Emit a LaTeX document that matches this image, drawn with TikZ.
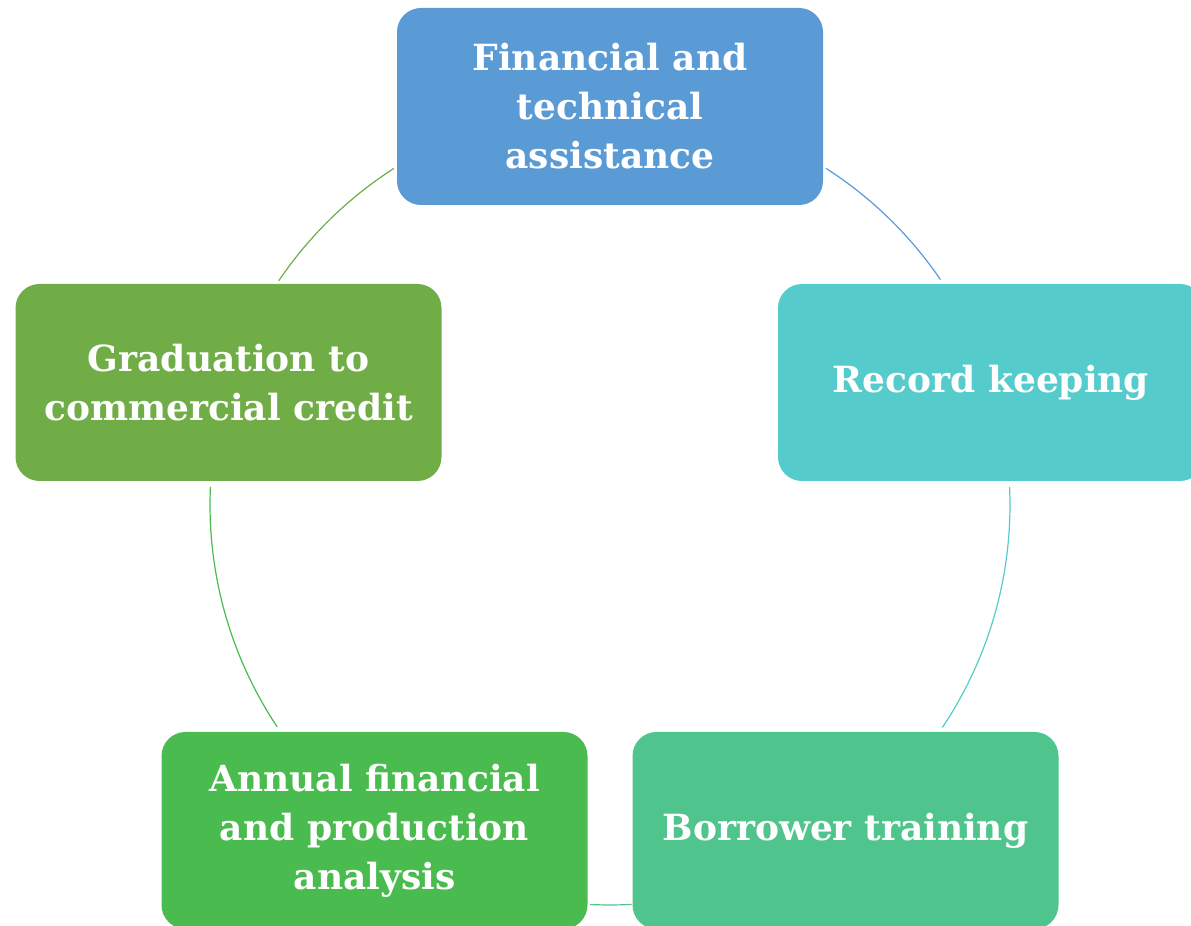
\documentclass[tikz,border=0pt]{standalone}
\usepackage{fontspec}
\setmainfont{DejaVu Serif}
\definecolor{cblue}{HTML}{5B9BD5}
\definecolor{cteal}{HTML}{56CBCC}
\definecolor{cmint}{HTML}{4FC58D}
\definecolor{cgreen}{HTML}{4ABB4E}
\definecolor{colive}{HTML}{70AD47}
\tikzset{
  stagebox/.style={rounded corners=12pt, minimum width=213pt, minimum height=98.5pt,
    align=center, text=white, font=\bfseries\fontsize{18pt}{24.5pt}\selectfont, inner sep=0pt},
  cycarc/.style={line width=0.6pt}
}
\begin{document}
\begin{tikzpicture}[x=0.5pt,y=0.5pt]
\useasboundingbox (0,0) rectangle (1191,926);
\clip (0,0) rectangle (1191,926);
\coordinate (c) at (610,421);
% arcs
\draw[cycarc,cblue]  (c) ++(57.3:400) arc[start angle=57.3, end angle=34.3, radius=400];
\draw[cycarc,cteal]  (c) ++(2.6:400) arc[start angle=2.6, end angle=-33.8, radius=400];
\draw[cycarc,cmint]  (c) ++(-86.9:400) arc[start angle=-86.9, end angle=-92.9, radius=400];
\draw[cycarc,cgreen] (c) ++(213.7:400) arc[start angle=213.7, end angle=177.4, radius=400];
\draw[cycarc,colive] (c) ++(145.9:400) arc[start angle=145.9, end angle=122.7, radius=400];
% boxes
\node[stagebox, fill=cblue]  (fin) at (610,819.5) {Financial and\\technical\\assistance};
\node[stagebox, fill=cteal]  (rec) at (991,543.5) {Record keeping};
\node[stagebox, fill=cmint]  (bor) at (845.5,95.5) {Borrower training};
\node[stagebox, fill=cgreen] (ann) at (374.5,95.5) {Annual financial\\and production\\analysis};
\node[stagebox, fill=colive] (gra) at (228.5,543.5) {Graduation to\\commercial credit};
\end{tikzpicture}
\end{document}
